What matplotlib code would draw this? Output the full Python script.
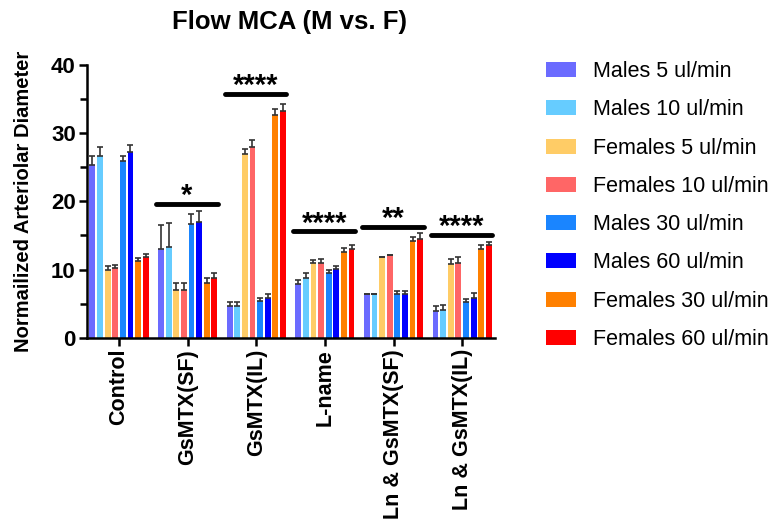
import matplotlib
matplotlib.use("Agg")
import matplotlib.pyplot as plt
import numpy as np

plt.rcParams['font.family'] = ['Liberation Sans', 'DejaVu Sans']

categories = ["Control", "GsMTX(SF)", "GsMTX(IL)", "L-name", "Ln & GsMTX(SF)", "Ln & GsMTX(IL)"]
series = ["Males 5 ul/min", "Males 10 ul/min", "Females 5 ul/min", "Females 10 ul/min",
          "Males 30 ul/min", "Males 60 ul/min", "Females 30 ul/min", "Females 60 ul/min"]
colors = ["#6B6BFF", "#66CCFF", "#FFCC66", "#FF6666", "#1A85FF", "#0000FF", "#FF8000", "#FF0000"]

# values per series, across categories
means = [
    [25.3, 13.0, 4.7, 7.9, 6.5, 4.0],
    [26.6, 13.3, 4.7, 8.7, 6.5, 4.1],
    [10.0, 7.0, 27.0, 10.9, 11.8, 10.8],
    [10.2, 7.0, 27.9, 11.0, 12.1, 11.0],
    [25.9, 16.7, 5.4, 9.5, 6.5, 5.2],
    [27.2, 17.0, 5.8, 10.1, 6.5, 5.9],
    [11.3, 8.1, 32.6, 12.6, 14.2, 13.0],
    [11.9, 8.8, 33.3, 13.0, 14.5, 13.6],
]
errors = [
    [1.3, 3.6, 0.6, 0.6, 0.0, 0.6],
    [1.4, 3.6, 0.6, 0.8, 0.0, 0.7],
    [0.5, 1.1, 0.7, 0.5, 0.0, 0.7],
    [0.5, 1.1, 1.1, 0.5, 0.0, 0.8],
    [0.8, 1.4, 0.4, 0.5, 0.4, 0.5],
    [1.0, 1.6, 0.6, 0.4, 0.3, 0.7],
    [0.4, 0.6, 0.9, 0.6, 0.6, 0.6],
    [0.4, 0.7, 1.0, 0.6, 0.8, 0.5],
]
sig_labels = ["", "*", "****", "****", "**", "****"]
sig_heights = [None, 19.6, 35.8, 15.6, 16.3, 15.1]

fig = plt.figure(figsize=(7.73, 5.19), dpi=100)
ax = fig.add_axes([0.1125, 0.349, 0.528, 0.526])

x = np.arange(len(categories))
slot = 0.111
width = 0.085
for i, (s, c) in enumerate(zip(series, colors)):
    pos = x + (i - 3.5) * slot
    ax.bar(pos, means[i], width=width, color=c, label=s, zorder=2)
    ax.errorbar(pos, means[i], yerr=[np.zeros(len(categories)), errors[i]], fmt='none',
                ecolor='#333333', elinewidth=1.2, capsize=2, capthick=1.2, zorder=3)

# significance lines
for j, (lab, h) in enumerate(zip(sig_labels, sig_heights)):
    if h is None:
        continue
    ax.plot([x[j] - 0.46, x[j] + 0.44], [h, h], color='black', lw=3.5,
            solid_capstyle='round', zorder=4, clip_on=False)
    ax.text(x[j] - 0.01, h - 0.9, lab, ha='center', va='bottom', fontsize=21,
            fontweight='bold', zorder=4, clip_on=False)

ax.set_xlim(-0.467, 5.48)
ax.set_ylim(0, 40)
ax.set_yticks([0, 10, 20, 30, 40])
ax.set_yticks([5, 15, 25, 35], minor=True)
ax.set_xticks(x)
ax.set_xticklabels(categories, rotation=90, fontsize=15.5, fontweight='bold')
for lbl in ax.get_yticklabels():
    lbl.set_fontweight('bold')
    lbl.set_fontsize(16)
ax.spines['top'].set_visible(False)
ax.spines['right'].set_visible(False)
ax.spines['left'].set_linewidth(1.8)
ax.spines['bottom'].set_linewidth(1.8)
ax.tick_params(axis='both', which='major', width=1.8, length=6, pad=2)
ax.tick_params(axis='y', which='minor', width=1.8, length=5)
ax.set_ylabel("Normailized Arteriolar Diameter", fontsize=14.5, fontweight='bold', labelpad=13)
fig.text(0.375, 0.957, "Flow MCA (M vs. F)", fontsize=18.5, fontweight='bold',
         ha='center', va='center')

fig.legend(loc='upper left', bbox_to_anchor=(0.7065, 0.882), frameon=False, fontsize=15.5,
           handlelength=1.4, handleheight=0.7, labelspacing=0.8, handletextpad=0.8,
           borderaxespad=0, borderpad=0)

fig.savefig("out.png", dpi=100)
